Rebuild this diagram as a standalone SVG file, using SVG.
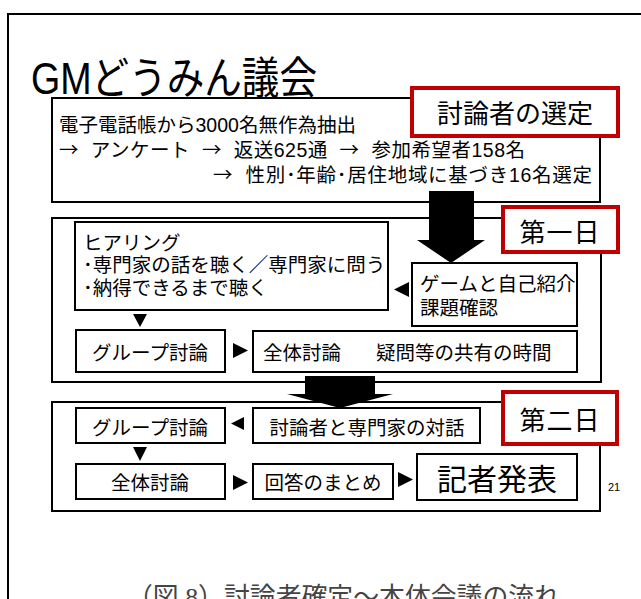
<svg xmlns="http://www.w3.org/2000/svg" width="641" height="599" viewBox="0 0 641 599">
<style>
.t{font-family:"Liberation Sans","Noto Sans CJK JP",sans-serif;font-size:19.5px;fill:#000}
.a{font-family:"Noto Sans CJK JP",sans-serif}
.big{font-size:26px}
.box{fill:#fff;stroke:#000;stroke-width:2}
.red{fill:#fff;stroke:#C00000;stroke-width:4}
.tri{fill:#000}
</style>
<rect x="0" y="0" width="641" height="599" fill="#fff"/>
<rect x="8" y="14" width="650" height="620" fill="#fff" stroke="#000" stroke-width="2"/>
<text class="t" x="31" y="94" style="font-size:44px" textLength="286" lengthAdjust="spacingAndGlyphs">GMどうみん議会</text>

<g id="selection">
<rect class="box" x="52" y="98" width="548" height="104"/>
<text class="t" x="59" y="132">電子電話帳から3000名無作為抽出</text>
<text class="t" x="59" y="157" xml:space="preserve" textLength="466"><tspan class="a">→</tspan>  アンケート  <tspan class="a">→</tspan>  返送625通  <tspan class="a">→</tspan>  参加希望者158名</text>
<text class="t" x="213" y="182" xml:space="preserve" textLength="379"><tspan class="a">→</tspan>  性別･年齢･居住地域に基づき16名選定</text>
</g>

<g id="day1">
<rect class="box" x="52" y="218" width="549" height="164"/>
</g>

<g id="connectors">
<polygon points="429,191 474,191 474,240 485,240 451,263 417,240 429,240" fill="#000"/>
</g>

<g id="label-selection">
<rect class="red" x="412" y="88" width="206" height="48"/>
<text class="t big" x="515" y="123" text-anchor="middle">討論者の選定</text>
</g>
<g id="label-day1">
<rect class="red" x="503" y="207" width="115" height="45"/>
<text class="t big" x="560" y="242" text-anchor="middle" letter-spacing="1">第一日</text>
</g>

<g id="hearing">
<rect class="box" x="75" y="222" width="313" height="88"/>
<text class="t" x="83" y="250">ヒアリング</text>
<text class="t" x="83" y="272">･専門家の話を聴く／専門家に問う</text>
<text class="t" x="83" y="295">･納得できるまで聴く</text>
</g>
<g id="game">
<rect class="box" x="412" y="263" width="165" height="63"/>
<text class="t" x="420" y="291">ゲームと自己紹介</text>
<text class="t" x="420" y="315">課題確認</text>
</g>
<g id="group1">
<rect class="box" x="76" y="330" width="149" height="42"/>
<text class="t" x="150" y="360" text-anchor="middle">グループ討論</text>
</g>
<g id="plenary1">
<rect class="box" x="253" y="331" width="324" height="41"/>
<text class="t" x="263" y="360">全体討論<tspan x="376">疑問等の共有の時間</tspan></text>
</g>

<g id="day2">
<rect class="box" x="52" y="402" width="548" height="109"/>
</g>

<g id="connectors2">
<polygon class="tri" points="409,282 409,297 394,289.5"/>
<polygon class="tri" points="133,314 147,314 140,327"/>
<polygon class="tri" points="233,343 233,358 248,350.5"/>
<polygon points="305,376 375,376 375,394 393,394 340,408 287,394 305,394" fill="#000"/>
<polygon class="tri" points="244,417 244,430 231,423.5"/>
<polygon class="tri" points="133,447 147,447 140,461"/>
<polygon class="tri" points="233,475 233,490 248,482.5"/>
<polygon class="tri" points="398,472 398,487 413,479.5"/>
</g>

<g id="label-day2">
<rect class="red" x="503" y="392" width="114" height="52"/>
<text class="t big" x="560" y="430" text-anchor="middle" letter-spacing="1">第二日</text>
</g>

<g id="group2">
<rect class="box" x="76" y="408" width="149" height="35"/>
<text class="t" x="150" y="435" text-anchor="middle">グループ討論</text>
</g>
<g id="dialogue">
<rect class="box" x="253" y="408" width="227" height="35"/>
<text class="t" x="367" y="435" text-anchor="middle">討論者と専門家の対話</text>
</g>
<g id="plenary2">
<rect class="box" x="76" y="464" width="149" height="35"/>
<text class="t" x="150" y="490" text-anchor="middle">全体討論</text>
</g>
<g id="summary">
<rect class="box" x="253" y="464" width="140" height="35"/>
<text class="t" x="323" y="490" text-anchor="middle">回答のまとめ</text>
</g>
<g id="press">
<rect class="box" x="417" y="454" width="160" height="46"/>
<text class="t" x="497" y="490" text-anchor="middle" style="font-size:30px">記者発表</text>
</g>
<text class="t" x="608" y="491" style="font-size:11px">21</text>
<text x="127" y="606" textLength="433" lengthAdjust="spacingAndGlyphs" style="font-family:'Liberation Serif','Noto Sans CJK JP',serif;font-size:26px;fill:#444">（図 8）討論者確定～本体会議の流れ</text>
</svg>
